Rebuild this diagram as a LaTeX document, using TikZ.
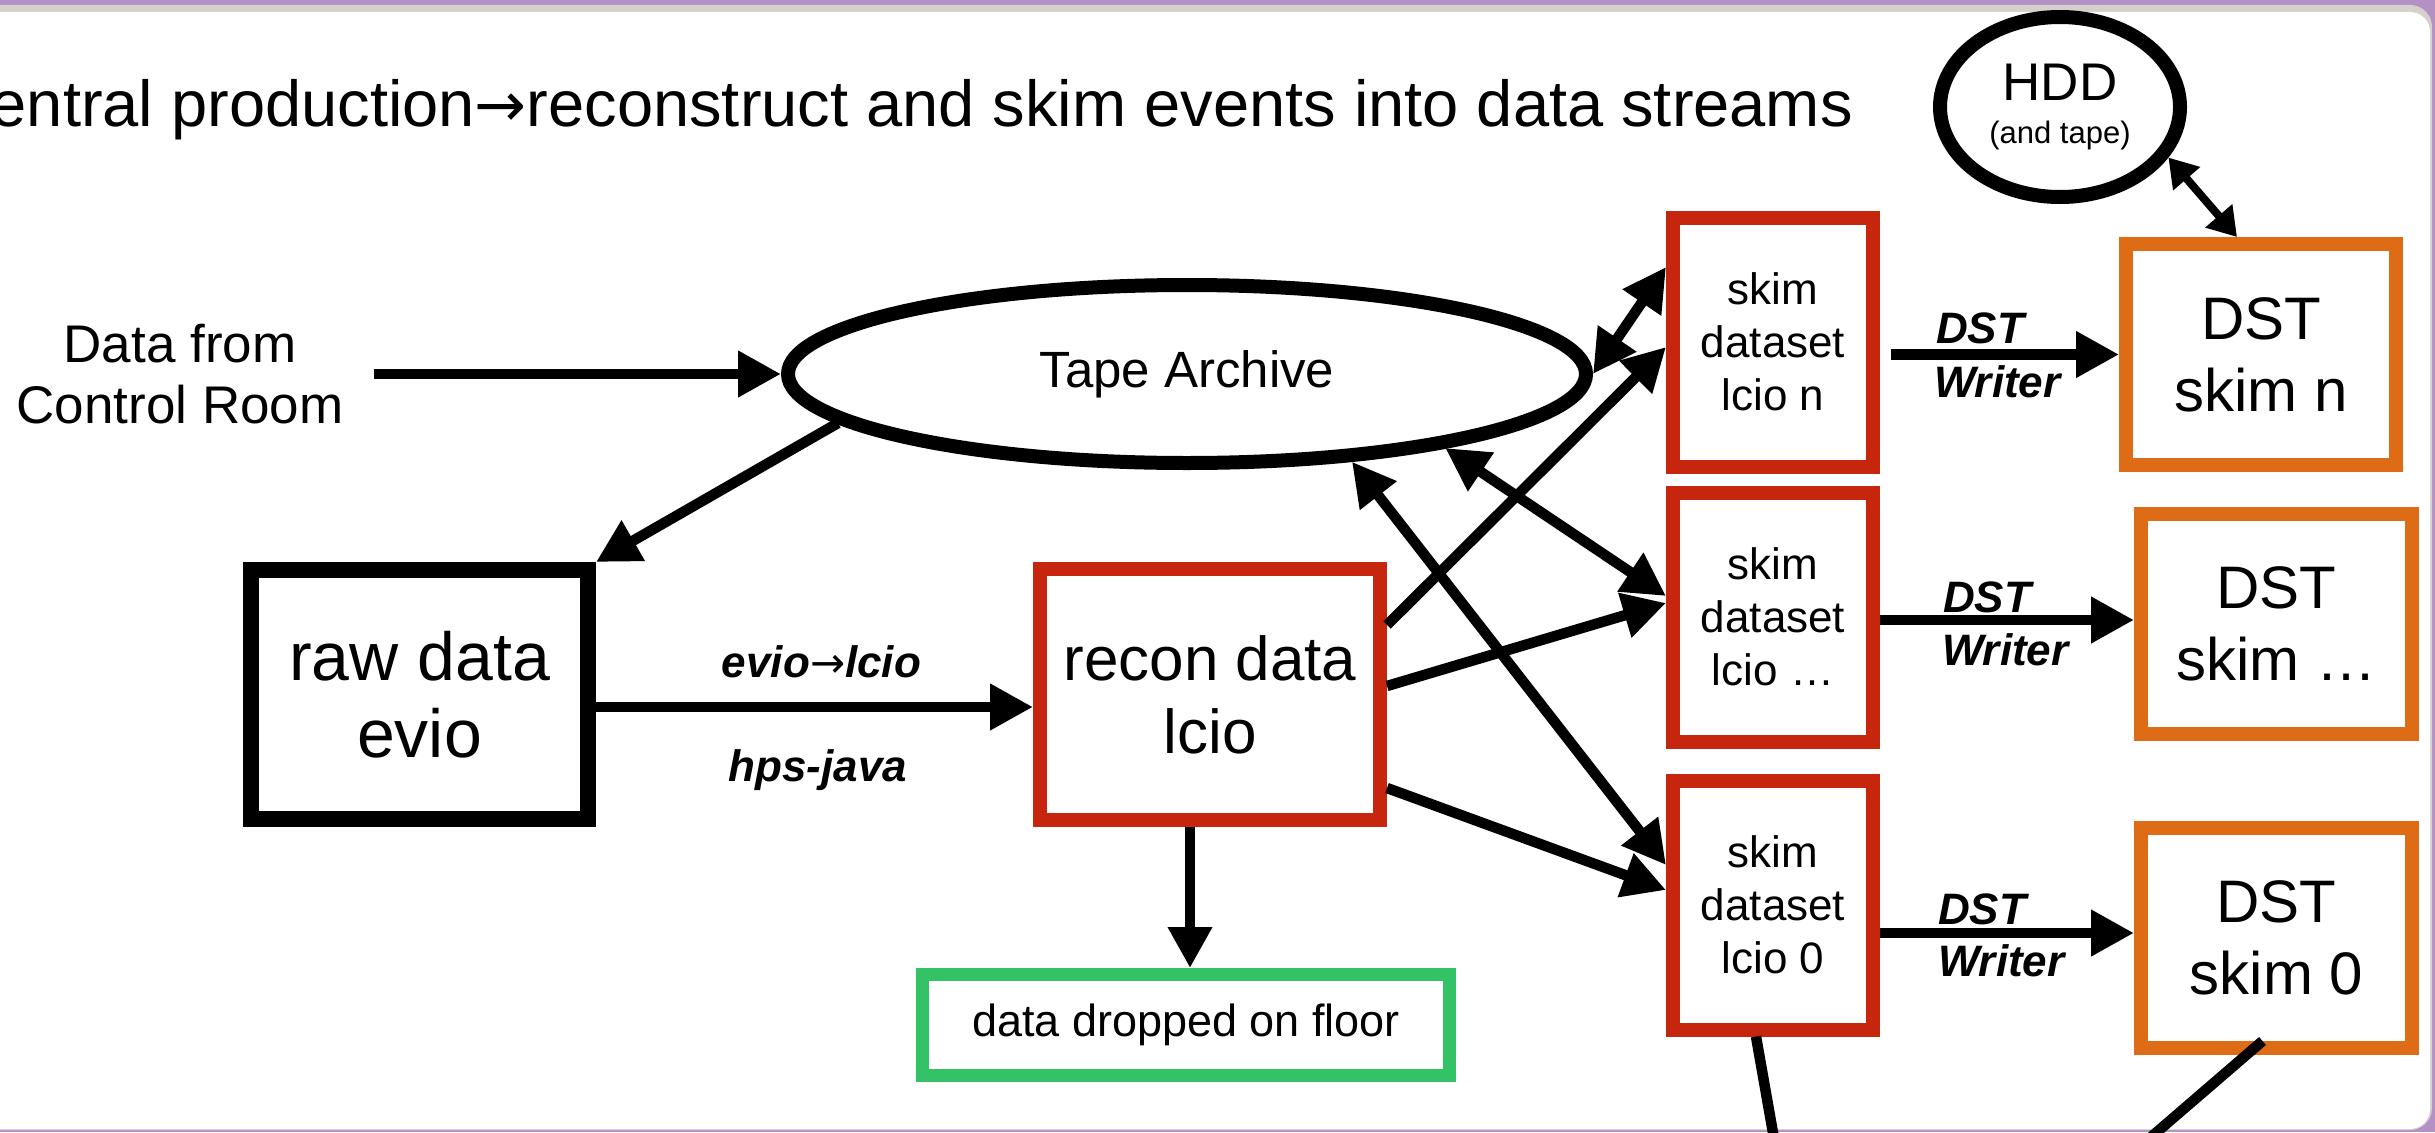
\documentclass[tikz,border=0pt]{standalone}
\usepackage{fontspec}
\setmainfont{Liberation Sans}
\newfontfamily\arrowfont{DejaVu Sans}
\usetikzlibrary{arrows.meta,shapes.geometric}
\definecolor{skimred}{RGB}{199,38,14}
\definecolor{dstorange}{RGB}{222,107,22}
\definecolor{floorgreen}{RGB}{51,194,102}
\definecolor{bandpurple}{RGB}{179,145,196}
\definecolor{bandgray}{RGB}{214,208,204}
\begin{document}
\begin{tikzpicture}[x=1pt,y=-1pt,
  plain/.style={inner sep=0pt, align=center},
  box/.style={rectangle, draw, fill=white, inner sep=0pt, align=center},
  skimbox/.style={box, draw=skimred, line width=14pt, minimum width=200pt, minimum height=249pt, font=\fontsize{44}{53}\selectfont},
  dstbox/.style={box, draw=dstorange, line width=14pt, minimum width=271pt, minimum height=220pt, font=\fontsize{60}{72}\selectfont},
  lbl/.style={inner sep=0pt, font=\fontsize{44}{53}\selectfont\bfseries\itshape},
  arr/.style={line width=10.5pt, -{Triangle[length=43pt,width=44pt]}},
  darr/.style={line width=10.5pt, {Triangle[length=43pt,width=44pt]}-{Triangle[length=43pt,width=44pt]}},
  hddarr/.style={line width=8pt, {Triangle[length=28pt,width=34pt]}-{Triangle[length=28pt,width=34pt]}},
  plainline/.style={line width=10.5pt}]
\useasboundingbox (0,0) rectangle (2435,1132);
% slide background
\fill[bandpurple] (0,0) rectangle (2435,1132);
\fill[bandgray, rounded corners=22pt] (-60,5) rectangle (2432,1130);
\fill[white, rounded corners=20pt] (-60,12) rectangle (2430,1129);

% title
\node[plain, anchor=base east, font=\fontsize{65}{78}\selectfont] (title) at (1853,126)
  {Central production{\arrowfont\fontsize{62}{70}\selectfont →}reconstruct and skim events into data streams};

% nodes
\node[plain, font=\fontsize{53}{61}\selectfont] (ctrl) at (180,374) {Data from\\Control Room};
\node[ellipse, draw, fill=white, line width=14pt, minimum width=798pt, minimum height=178pt,
  inner sep=0pt, font=\fontsize{51}{61}\selectfont] (tape) at (1187,374) {Tape Archive};
\node[ellipse, draw, fill=white, line width=14pt, minimum width=240pt, minimum height=180pt,
  inner sep=0pt, align=center, font=\fontsize{53}{43}\selectfont] (hdd) at (2060,107)
  {HDD\\{\fontsize{31}{37}\selectfont (and tape)}};
\node[box, draw=black, line width=16pt, minimum width=337pt, minimum height=249pt,
  font=\fontsize{68}{77}\selectfont] (raw) at (419.5,694.5) {raw data\\evio};
\node[box, draw=skimred, line width=14pt, minimum width=340pt, minimum height=251pt,
  font=\fontsize{62}{73}\selectfont] (recon) at (1210,694.5) {recon data\\lcio};
\node[box, draw=floorgreen, line width=13pt, minimum width=527pt, minimum height=101pt,
  font=\fontsize{45}{54}\selectfont] (floor) at (1186,1025) {data dropped on floor};

\node[skimbox] (skimn) at (1773,342) {skim\\dataset\\lcio n};
\node[skimbox] (skimd) at (1773,617) {skim\\dataset\\lcio …};
\node[skimbox] (skim0) at (1773,905) {skim\\dataset\\lcio 0};

\node[dstbox, minimum width=270pt, minimum height=221pt] (dstn) at (2261,354.5) {DST\\skim n};
\node[dstbox] (dstd) at (2276.5,624) {DST\\skim …};
\node[dstbox] (dst0) at (2276.5,938) {DST\\skim 0};

% labels
\node[lbl, anchor=base] (conv) at (821.5,677) {evio{\arrowfont\mdseries\upshape\fontsize{42}{50}\selectfont →}lcio};
\node[lbl, anchor=base] (hpsj) at (818,781) {hps-java};
\node[lbl, anchor=base west] (dwn1) at (1936,343) {DST};
\node[lbl, anchor=base west] (dwn2) at (1934,397) {Writer};
\node[lbl, anchor=base west] (dwd1) at (1943,612) {DST};
\node[lbl, anchor=base west] (dwd2) at (1942,665) {Writer};
\node[lbl, anchor=base west] (dw01) at (1938,924) {DST};
\node[lbl, anchor=base west] (dw02) at (1938,976) {Writer};

% connectors
\draw[arr] ([xshift=30pt]ctrl.east) -- (tape.west);
\draw[arr] (tape.188) -- (raw.north east);
\draw[arr] ([yshift=-12.5pt]raw.east) -- ([yshift=-12.5pt]recon.west);
\draw[line width=10pt, -{Triangle[length=41pt,width=42pt]}] ([xshift=-20pt]recon.south) -- ([xshift=4pt]floor.north);

\draw[arr] ([yshift=69.5pt]recon.east) -- ([yshift=-5pt]skimn.west);
\draw[darr] (tape.east) -- ([yshift=75pt]skimn.west);
\draw[arr] ([yshift=8.5pt]recon.east) -- ([yshift=14pt]skimd.west);
\draw[darr] (tape.-16) -- ([yshift=21pt]skimd.west);
\draw[darr] (tape.-28) -- ([yshift=40pt]skim0.west);
\draw[arr] ([yshift=-93.5pt]recon.east) -- ([yshift=15pt]skim0.west);

\draw[arr, shorten <=11pt] (skimn.east |- dstn.west) -- (dstn.west);
\draw[arr] (skimd.east |- 0,620) -- (dstd.west |- 0,620);
\draw[arr] (skim0.east |- 0,933) -- (dst0.west |- 0,933);

\draw[hddarr] (hdd.-25) -- ([xshift=-24pt]dstn.north);

\coordinate (off1) at (1776,1150);
\coordinate (off2) at (2136,1150);
\draw[plainline] ([xshift=-17pt]skim0.south) -- (off1);
\draw[plainline] ([xshift=-14pt,yshift=14pt]dst0.south) -- (off2);
\end{tikzpicture}
\end{document}
